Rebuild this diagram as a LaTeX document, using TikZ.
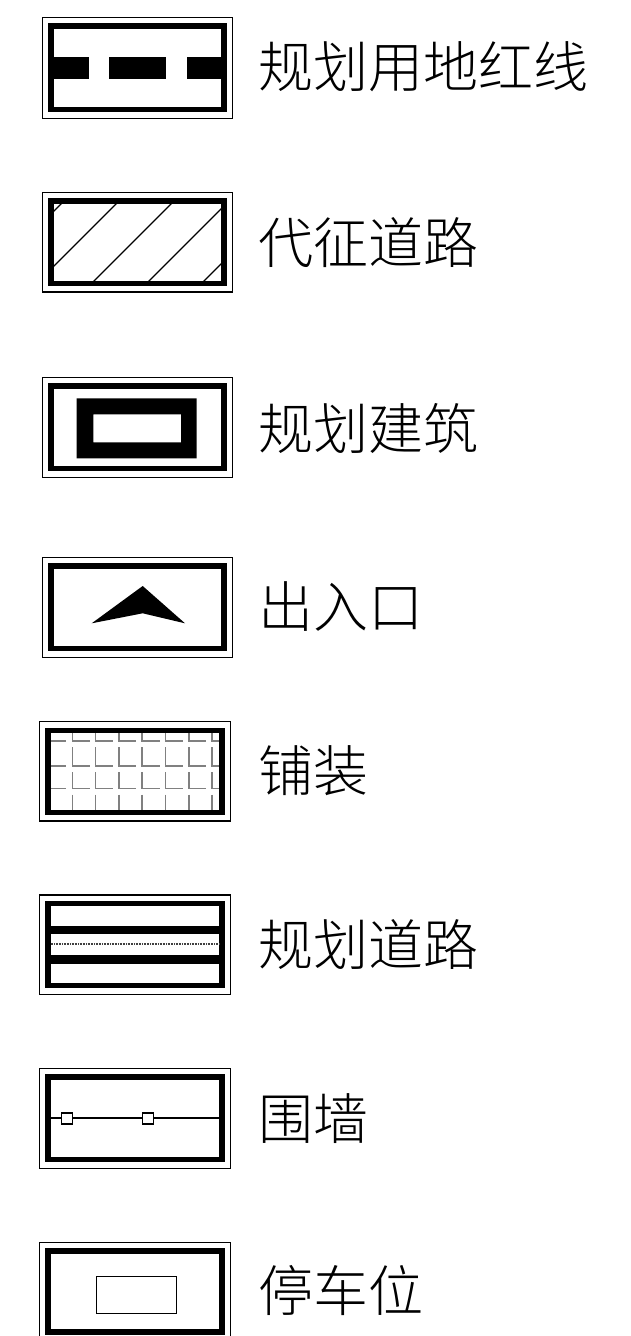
\documentclass[tikz,border=0pt]{standalone}
\usepackage{fontspec}
\newfontfamily\cjk{Noto Sans CJK SC}[UprightFont={* Light}]
\tikzset{
  outerframe/.style={draw=black, line width=1.5pt},
  thickframe/.style={draw=black, line width=5.5pt},
  lgtext/.style={anchor=west, inner sep=0pt, font=\cjk\fontsize{55}{55}\selectfont},
  pave/.style={draw=black!50, line width=1.5pt},
  hatch/.style={draw=black, line width=1.3pt},
  blackfill/.style={fill=black, draw=none},
}
\newcommand\lgframe[4]{%
  \draw[outerframe] (#1,#2) rectangle (#3,#4);
  \draw[thickframe] ({#1+8.7},{#2+8.7}) rectangle ({#3-8.7},{#4-8.7});
}
\begin{document}
\begin{tikzpicture}[x=1pt,y=-1pt]
\useasboundingbox (0,0) rectangle (630,1336);
% 1 规划用地红线
\lgframe{42.3}{17.3}{232.7}{118.3}
\fill[blackfill] (53.75,57.3) rectangle (89,79);
\fill[blackfill] (109,57.3) rectangle (166,79);
\fill[blackfill] (187,57.3) rectangle (221.25,79);
\node[lgtext] (t1) at (258,67) {规划用地红线};
% 2 代征道路
\lgframe{42.3}{192.3}{232.7}{292}
\begin{scope}
  \clip (53.75,203.75) rectangle (221.25,280.55);
  \foreach \c in {265,320,375,430,485}{
    \draw[hatch] ({\c-300},300) -- ({\c-180},180);
  }
\end{scope}
\node[lgtext] (t2) at (258,243) {代征道路};
% 3 规划建筑
\lgframe{42.3}{377.3}{232.7}{477.3}
\fill[blackfill, even odd rule] (76.7,398.3) rectangle (196.7,458.3) (93.3,414.3) rectangle (181,442.3);
\node[lgtext] (t3) at (258,428) {规划建筑};
% 4 出入口
\lgframe{42.3}{557.3}{232.7}{657.3}
\fill[blackfill] (142.7,586) -- (185,623.3) -- (142.7,613.3) -- (91.7,623.3) -- cycle;
\node[lgtext] (t4) at (258,607) {出入口};
% 5 铺装
\lgframe{39.3}{721.7}{230.7}{821}
\foreach \k in {0,...,6}{
  \pgfmathsetmacro\xx{72.3+23.3*\k}
  \pgfmathsetmacro\xe{min(\xx+17.3,219.2)}
  \draw[pave] (\xx,733.2) -- (\xx,741) -- (\xe,741);
  \draw[pave] (\xx,747) -- (\xx,766) -- (\xe,766);
  \draw[pave] (\xx,772) -- (\xx,788.5) -- (\xe,788.5);
  \draw[pave] (\xx,794.5) -- (\xx,809.5);
}
\draw[pave] (50.8,741) -- (66.3,741);
\draw[pave] (50.8,766) -- (66.3,766);
\draw[pave] (50.8,788.5) -- (66.3,788.5);
\node[lgtext] (t5) at (258,771) {铺装};
% 6 规划道路
\lgframe{39.3}{895}{230.7}{994.3}
\fill[blackfill] (50.75,925.7) rectangle (219.25,934.3);
\fill[blackfill] (50.75,955) rectangle (219.25,964.3);
\draw[black!75, line width=1.8pt, dash pattern=on 1pt off 0.6pt] (50.75,944.3) -- (219.25,944.3);
\node[lgtext] (t6) at (258,945) {规划道路};
% 7 围墙
\lgframe{39.3}{1068.3}{230.7}{1168.3}
\coordinate (w1) at (50.75,1118.3);
\coordinate (w2) at (219.25,1118.3);
\draw[black, line width=2pt] (w1) -- (w2);
\node[draw=black, fill=white, line width=1.4pt, minimum size=11pt, inner sep=0pt] (s1) at (66.7,1118.3) {};
\node[draw=black, fill=white, line width=1.4pt, minimum size=11pt, inner sep=0pt] (s2) at (147.8,1118.3) {};
\node[lgtext] (t7) at (258,1119) {围墙};
% 8 停车位
\lgframe{39.3}{1242.3}{230.7}{1340.5}
\draw[black, line width=1pt] (96,1276) rectangle (176.7,1313.3);
\node[lgtext] (t8) at (258,1291) {停车位};
\end{tikzpicture}
\end{document}
